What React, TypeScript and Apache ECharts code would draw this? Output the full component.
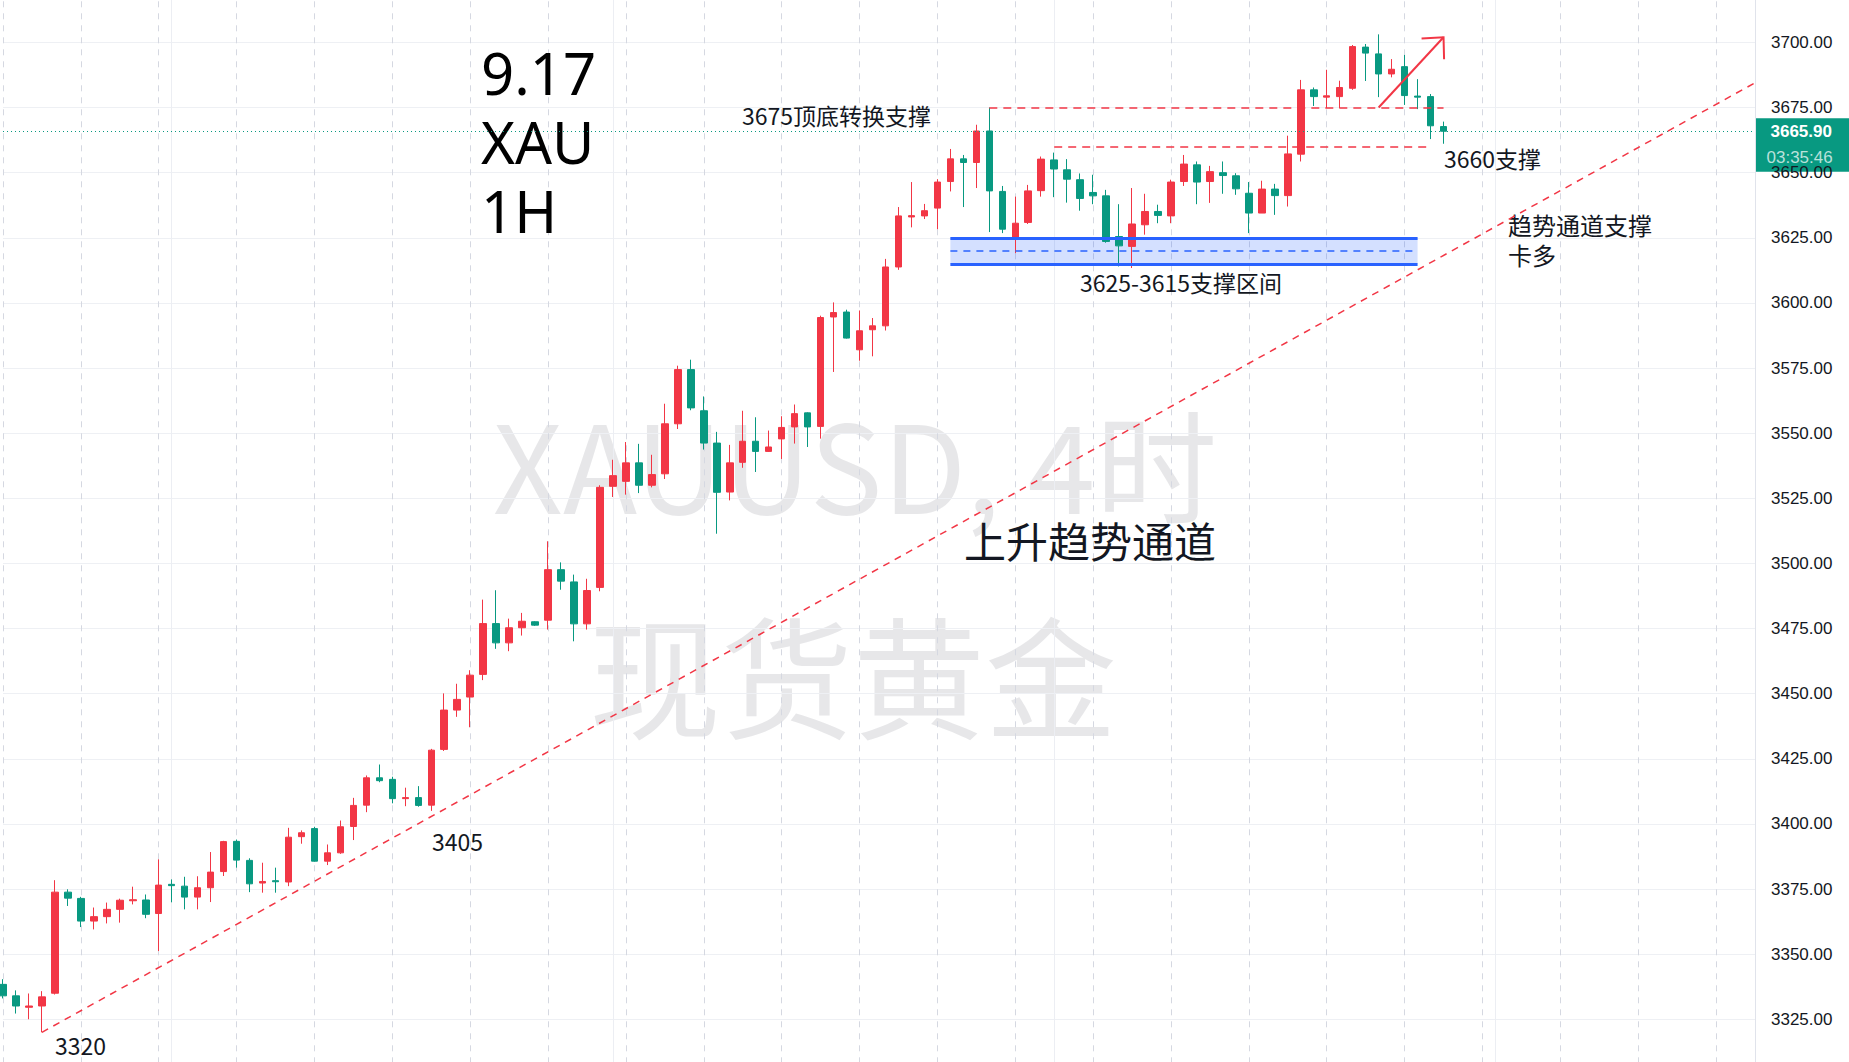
import React, { useEffect, useRef } from "react";
import * as echarts from "echarts";

// Hourly XAUUSD candles (oldest first): open / close / low / high
const opens = [
  3338.4, 3334.0, 3329.6, 3330.1, 3335.0, 3373.8, 3371.4, 3362.7, 3364.4, 3367.2,
  3370.5, 3370.8, 3365.6, 3376.8, 3376.1, 3371.9, 3375.5, 3381.7, 3393.3, 3386.0,
  3377.3, 3378.2, 3377.7, 3395.1, 3398.2, 3385.7, 3388.9, 3399.0, 3407.2, 3417.7,
  3417.1, 3409.7, 3410.1, 3407.2, 3428.6, 3443.7, 3448.7, 3457.4, 3476.9, 3469.5,
  3475.3, 3477.6, 3478.2, 3497.6, 3492.9, 3476.8, 3490.8, 3529.6, 3531.5, 3538.6,
  3530.0, 3534.4, 3553.6, 3574.4, 3558.6, 3546.2, 3527.4, 3538.8, 3546.9, 3543.0,
  3547.8, 3552.4, 3557.8, 3552.6, 3594.6, 3596.5, 3582.0, 3589.7, 3591.2, 3613.8,
  3633.0, 3633.4, 3636.4, 3646.6, 3655.3, 3653.9, 3666.0, 3642.8, 3625.3, 3630.9,
  3643.1, 3654.9, 3651.1, 3647.3, 3642.4, 3641.1, 3625.5, 3621.7, 3630.0, 3635.1,
  3633.4, 3646.6, 3653.0, 3646.6, 3650.0, 3648.8, 3642.1, 3634.5, 3643.7, 3641.2,
  3657.1, 3681.8, 3679.0, 3679.2, 3682.4, 3698.2, 3695.6, 3687.9, 3690.7, 3679.4,
  3679.2, 3667.7,
];
const closes = [
  3334.0, 3330.1, 3330.1, 3333.6, 3373.8, 3371.5, 3362.7, 3364.4, 3367.2, 3370.7,
  3370.9, 3365.3, 3376.5, 3376.3, 3371.9, 3375.5, 3381.5, 3393.2, 3386.1, 3377.0,
  3377.9, 3377.8, 3394.9, 3396.6, 3385.7, 3388.9, 3398.9, 3407.1, 3417.7, 3416.6,
  3409.7, 3410.1, 3407.1, 3428.3, 3443.7, 3447.8, 3457.1, 3476.9, 3469.5, 3475.3,
  3477.8, 3476.3, 3497.6, 3493.2, 3476.8, 3489.6, 3529.2, 3533.7, 3538.6, 3530.0,
  3534.1, 3553.6, 3574.4, 3559.7, 3546.2, 3527.3, 3538.6, 3546.9, 3543.0, 3544.7,
  3552.2, 3557.5, 3552.4, 3594.4, 3596.3, 3586.5, 3589.3, 3591.2, 3613.8, 3633.4,
  3633.5, 3635.4, 3646.4, 3655.3, 3653.9, 3666.0, 3643.0, 3628.3, 3630.6, 3643.0,
  3655.2, 3651.4, 3647.5, 3640.1, 3641.1, 3623.6, 3621.9, 3630.3, 3635.1, 3633.6,
  3646.4, 3653.3, 3646.4, 3650.4, 3648.9, 3643.8, 3634.5, 3643.7, 3641.2, 3657.2,
  3681.8, 3679.2, 3679.5, 3682.7, 3698.4, 3695.9, 3687.9, 3689.7, 3679.6, 3679.0,
  3668.0, 3665.9,
];
const lows = [
  3333.0, 3327.2, 3325.0, 3320.0, 3334.5, 3368.5, 3360.4, 3359.5, 3361.8, 3362.1,
  3369.1, 3363.8, 3351.2, 3369.9, 3367.2, 3367.2, 3370.0, 3380.0, 3383.2, 3373.8,
  3373.6, 3373.6, 3376.1, 3392.4, 3385.5, 3384.2, 3388.5, 3393.8, 3404.5, 3416.0,
  3407.9, 3406.8, 3406.6, 3405.0, 3428.0, 3441.1, 3437.1, 3455.2, 3467.2, 3466.3,
  3472.3, 3476.0, 3474.6, 3489.9, 3470.1, 3474.6, 3489.3, 3525.5, 3526.4, 3527.0,
  3529.2, 3532.4, 3551.6, 3558.8, 3543.7, 3511.4, 3524.2, 3536.7, 3535.1, 3542.8,
  3540.1, 3546.0, 3544.7, 3547.9, 3573.5, 3586.3, 3577.8, 3579.5, 3589.4, 3612.7,
  3629.0, 3632.2, 3628.3, 3642.8, 3636.8, 3644.1, 3627.2, 3626.8, 3619.1, 3630.3,
  3640.8, 3640.6, 3638.5, 3635.4, 3637.9, 3623.1, 3614.0, 3613.4, 3626.2, 3630.6,
  3630.6, 3644.9, 3637.9, 3638.4, 3641.9, 3641.5, 3626.8, 3634.5, 3633.8, 3637.0,
  3654.3, 3675.6, 3674.8, 3674.8, 3681.8, 3685.2, 3679.0, 3686.6, 3676.0, 3674.4,
  3662.9, 3661.1,
];
const highs = [
  3340.4, 3336.1, 3334.9, 3335.8, 3378.4, 3374.9, 3372.0, 3367.9, 3369.8, 3371.3,
  3375.9, 3372.9, 3386.4, 3378.7, 3379.7, 3379.9, 3389.2, 3393.5, 3394.0, 3386.8,
  3385.1, 3383.2, 3398.5, 3397.5, 3398.9, 3392.1, 3401.3, 3410.0, 3418.6, 3422.8,
  3418.1, 3413.9, 3414.5, 3428.8, 3450.1, 3453.8, 3459.0, 3486.1, 3489.7, 3478.8,
  3481.0, 3477.8, 3508.5, 3500.4, 3495.7, 3494.1, 3530.0, 3539.8, 3546.6, 3545.9,
  3541.7, 3561.3, 3575.9, 3578.2, 3564.1, 3550.5, 3545.5, 3558.6, 3556.1, 3551.0,
  3556.5, 3561.0, 3558.0, 3595.1, 3600.2, 3597.4, 3597.1, 3594.2, 3616.9, 3636.8,
  3646.4, 3638.0, 3647.5, 3659.1, 3656.8, 3668.4, 3675.0, 3644.9, 3640.8, 3645.3,
  3656.2, 3657.7, 3655.2, 3649.7, 3649.2, 3643.4, 3637.9, 3644.1, 3641.9, 3637.7,
  3647.3, 3656.8, 3654.3, 3652.6, 3654.3, 3649.8, 3646.4, 3646.9, 3645.7, 3664.2,
  3685.6, 3682.7, 3689.5, 3685.3, 3699.0, 3699.4, 3703.1, 3693.6, 3695.2, 3685.9,
  3680.2, 3669.6,
];

// Time slots on the x axis (candles plus empty space to the right)
const SLOT_COUNT = 136;
const slots = Array.from({ length: SLOT_COUNT }, (_, i) => String(i));

// Price scale
const PRICE_MIN = 3300;
const PRICE_MAX = 3725;
const PRICE_STEP = 25;

// Vertical guides
const DASHED_GUIDE_EVERY = 6;
const sessionBreaks = [13, 47, 81, 115];

// Drawings (slot index, price)
const trendStart = [3, 3320];
const trendEnd = [135, 3684.5];
const flipLevel = { from: 76, to: 111, price: 3675 };
const supportLevel = { from: 81, to: 110, price: 3660 };
const supportZone = { from: 73, to: 109, top: 3625, bottom: 3615 };
const breakoutArrow = [106, 3675, 111, 3702];
const lastPrice = 3665.9;
const countdown = "03:35:46";

const UP = "#f23645";
const DOWN = "#089981";
const BLUE = "#2962ff";
const CJK = '"Noto Sans CJK SC", "Noto Sans", sans-serif';
const LATIN = '"Noto Sans", "Noto Sans CJK SC", sans-serif';
const AXIS_FONT = '"Liberation Sans", Arial, sans-serif';

function txt(text: string, x: number, y: number, size: number, family: string, extra: any = {}) {
  return {
    type: "text",
    x,
    y,
    silent: true,
    style: {
      text,
      fontSize: size,
      fontFamily: family,
      fill: "#131722",
      align: "left",
      verticalAlign: "middle",
      ...extra,
    },
  };
}

export default function App() {
  const ref = useRef<HTMLDivElement>(null);

  useEffect(() => {
    if (!ref.current) return;
    const chart = echarts.init(ref.current, null, { renderer: "svg" });

    const candles = opens.map((o, i) => [o, closes[i], lows[i], highs[i]]);
    const midZone = (supportZone.top + supportZone.bottom) / 2;

    const option: any = {
      animation: false,
      backgroundColor: "#ffffff",
      grid: {
        left: 3,
        right: 94,
        top: -22.7,
        bottom: -22.4,
        outerBoundsMode: "none",
        containLabel: false,
      },
      xAxis: [
        {
          type: "category",
          data: slots,
          boundaryGap: false,
          axisLine: { show: false },
          axisTick: { show: false },
          axisLabel: { show: false },
          splitLine: {
            show: true,
            interval: DASHED_GUIDE_EVERY - 1,
            lineStyle: { color: "#d5d8e1", width: 1, type: [6, 6] },
          },
        },
        {
          type: "category",
          data: slots,
          boundaryGap: false,
          axisLine: { show: false },
          axisTick: { show: false },
          axisLabel: { show: false },
          splitLine: {
            show: true,
            interval: (i: number) => sessionBreaks.includes(i),
            lineStyle: { color: "#eceef3", width: 1 },
          },
        },
      ],
      yAxis: {
        type: "value",
        position: "right",
        min: PRICE_MIN,
        max: PRICE_MAX,
        interval: PRICE_STEP,
        axisLine: { show: true, lineStyle: { color: "#e0e3eb", width: 1 } },
        axisTick: { show: false },
        axisLabel: {
          margin: 16,
          color: "#131722",
          fontSize: 17,
          fontFamily: AXIS_FONT,
          hideOverlap: false,
          showMinLabel: false,
          showMaxLabel: false,
          formatter: (v: number) => v.toFixed(2),
        },
        splitLine: { lineStyle: { color: "#eef0f4", width: 1 } },
      },
      series: [
        {
          type: "candlestick",
          data: candles,
          barWidth: 7,
          clip: false,
          silent: true,
          itemStyle: {
            color: UP,
            color0: DOWN,
            borderColor: UP,
            borderColor0: DOWN,
            borderWidth: 1,
          },
          markArea: {
            silent: true,
            itemStyle: { color: "rgba(41,98,255,0.2)" },
            data: [
              [
                { coord: [supportZone.from, supportZone.top] },
                { coord: [supportZone.to, supportZone.bottom] },
              ],
            ],
          },
          markLine: {
            silent: true,
            symbol: ["none", "none"],
            label: { show: false },
            data: [
              [
                { coord: trendStart, lineStyle: { color: UP, width: 1.5, type: [7, 6] } },
                { coord: trendEnd },
              ],
              [
                { coord: [flipLevel.from, flipLevel.price], lineStyle: { color: UP, width: 1.5, type: [8, 6] } },
                { coord: [flipLevel.to, flipLevel.price] },
              ],
              [
                { coord: [supportLevel.from, supportLevel.price], lineStyle: { color: UP, width: 1.5, type: [8, 6] } },
                { coord: [supportLevel.to, supportLevel.price] },
              ],
              [
                { coord: [supportZone.from, supportZone.top], lineStyle: { color: BLUE, width: 3, type: "solid" } },
                { coord: [supportZone.to, supportZone.top] },
              ],
              [
                { coord: [supportZone.from, supportZone.bottom], lineStyle: { color: BLUE, width: 3, type: "solid" } },
                { coord: [supportZone.to, supportZone.bottom] },
              ],
              [
                { coord: [supportZone.from, midZone], lineStyle: { color: BLUE, width: 1.5, type: [7, 6] } },
                { coord: [supportZone.to, midZone] },
              ],
              { yAxis: lastPrice, lineStyle: { color: DOWN, width: 1, type: [1, 3] } },
            ],
          },
        },
        {
          type: "custom",
          silent: true,
          clip: false,
          z: 5,
          encode: { x: [0, 2], y: [1, 3] },
          data: [breakoutArrow],
          renderItem: (_params: any, api: any) => {
            const a = api.coord([api.value(0), api.value(1)]);
            const b = api.coord([api.value(2), api.value(3)]);
            const back = Math.atan2(a[1] - b[1], a[0] - b[0]);
            const len = 22;
            const spread = 0.77;
            const p1 = [b[0] + len * Math.cos(back + spread), b[1] + len * Math.sin(back + spread)];
            const p2 = [b[0] + len * Math.cos(back - spread), b[1] + len * Math.sin(back - spread)];
            return {
              type: "group",
              children: [
                {
                  type: "line",
                  shape: { x1: a[0], y1: a[1], x2: b[0], y2: b[1] },
                  style: { stroke: UP, lineWidth: 2 },
                },
                {
                  type: "polyline",
                  shape: { points: [p1, b, p2] },
                  style: { stroke: UP, lineWidth: 2, fill: "none" },
                },
              ],
            };
          },
        },
      ],
    };

    chart.setOption(option);

    const py = chart.convertToPixel({ yAxisIndex: 0 }, lastPrice) as number;
    const axisX = 1755;

    chart.setOption({
      graphic: [
        // watermark
        {
          type: "text",
          x: 855,
          y: 460,
          z: -1,
          silent: true,
          style: {
            text: "XAUUSD, 4时",
            fontSize: 122,
            fontFamily: CJK,
            fill: "rgba(120,123,134,0.18)",
            align: "center",
            verticalAlign: "middle",
          },
        },
        {
          type: "text",
          x: 853,
          y: 671,
          z: -1,
          silent: true,
          style: {
            text: "现货黄金",
            fontSize: 132,
            fontFamily: CJK,
            fill: "rgba(120,123,134,0.18)",
            align: "center",
            verticalAlign: "middle",
          },
        },
        // title block
        txt("9.17", 481, 72, 58, LATIN, { fill: "#000000" }),
        txt("XAU", 481, 141, 58, LATIN, { fill: "#000000" }),
        txt("1H", 481, 210, 58, LATIN, { fill: "#000000" }),
        // notes
        txt("3675顶底转换支撑", 742, 115, 23, CJK),
        txt("3660支撑", 1444, 158, 23, CJK),
        txt("3625-3615支撑区间", 1080, 282, 23, CJK),
        txt("趋势通道支撑", 1508, 224, 24, CJK),
        txt("卡多", 1508, 254, 24, CJK),
        txt("上升趋势通道", 964, 539, 42, CJK),
        txt("3405", 432, 841, 23, CJK),
        txt("3320", 55, 1045, 23, CJK),
        // last price tag on the price axis
        {
          type: "group",
          x: axisX,
          y: py - 13,
          z: 100,
          silent: true,
          children: [
            {
              type: "rect",
              shape: { x: 0, y: 0, width: 1849 - axisX, height: 53.4 },
              style: { fill: DOWN },
            },
            {
              type: "text",
              x: 15.5,
              y: 13,
              style: {
                text: lastPrice.toFixed(2),
                fontSize: 17,
                fontWeight: "bold",
                fontFamily: AXIS_FONT,
                fill: "#ffffff",
                align: "left",
                verticalAlign: "middle",
              },
            },
            {
              type: "text",
              x: 11.5,
              y: 39,
              style: {
                text: countdown,
                fontSize: 17,
                fontFamily: AXIS_FONT,
                fill: "rgba(255,255,255,0.72)",
                align: "left",
                verticalAlign: "middle",
              },
            },
          ],
        },
      ],
    });

    return () => chart.dispose();
  }, []);

  return (
    <div
      ref={ref}
      style={{ position: "fixed", left: 0, top: 0, width: 1849, height: 1062, background: "#ffffff" }}
    />
  );
}
